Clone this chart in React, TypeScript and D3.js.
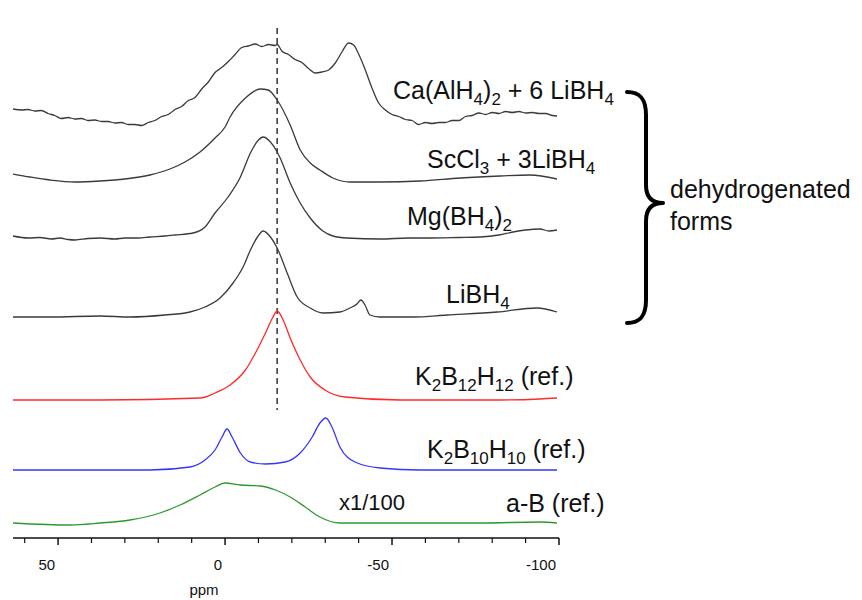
import React from 'react';
import * as d3 from 'd3';

// ---------- data (ppm, intensity above trace baseline, arbitrary units) ----------
const caAlH4LiBH4: [number, number][] = [
  [63.5, 11], [61, 10], [59, 10.5], [57, 9], [55, 9.5], [53, 6.5], [51, 4.5], [49, 1.5], [47, 2.5], [45, 1],
  [43, 1.5], [41, -0.5], [39, 0], [37, -1.5], [35, -1.5], [33, -3], [31, -2.5], [29, -4.5], [27, -4.5], [25, -5.5],
  [23, -2.5], [21, -0.5], [19, 3.5], [17, 5.5], [15, 10.5], [13, 13.5], [11, 19.5], [9, 22.5], [7, 31], [5, 38],
  [3, 47.5], [1, 52.5], [-1, 58.5], [-3, 65.5], [-5, 72.5], [-7, 74], [-9, 76], [-11, 73.5], [-13, 75.5], [-15, 74.5],
  [-15.6, 75.5], [-17, 69], [-19, 65.5], [-21, 60.5], [-23, 57.5], [-25, 51.5], [-27, 47], [-29, 48], [-31, 50], [-33, 57],
  [-35, 68], [-37, 77], [-38.5, 75], [-40, 66], [-42, 50], [-44, 32], [-46, 17], [-48, 10], [-50, 5.5], [-52, 3.5],
  [-54, 0.5], [-56, -0.5], [-58, -4.5], [-60, -2.5], [-62, -3.5], [-64, -2.5], [-66, -2.5], [-68, -0.5], [-70, -0.5], [-72, 3.5],
  [-74, 4.5], [-76, 7], [-78, 5.5], [-80, 7.5], [-82, 6.5], [-84, 8.5], [-86, 7.5], [-88, 8.5], [-90, 7], [-92, 7.5],
  [-94, 6.5], [-96, 6.5], [-98, 4.5], [-99.4, 4],
];
const scCl3LiBH4: [number, number][] = [
  [63.5, 6], [58.4, 3], [52.4, 0], [44.9, -2], [37.4, -1], [30, 1], [22.5, 5], [16.5, 11], [12, 18], [7.5, 28],
  [3, 42], [0, 53], [-1.5, 63], [-6.1, 82], [-10.6, 91], [-12.9, 90], [-15.6, 80], [-19.5, 55], [-22.5, 30],
  [-25.5, 17], [-28.4, 10], [-32.3, 2], [-37.4, -2], [-46.4, -2], [-58.4, -1], [-70.4, 2], [-82.4, 4],
  [-91.3, 5], [-99.4, 1],
];
const mgBH4: [number, number][] = [
  [63.5, 2], [59, 0], [55.4, 0.5], [52, -1], [49.4, 0], [47, -1.5], [44.9, -2], [41, -0.5], [37.4, 0], [33, -1],
  [30, 0], [26, 0], [22.5, 1], [18, 2], [15, 3], [9.6, 5], [6, 11], [3, 25], [-0.9, 41], [-4.6, 61],
  [-7.6, 85], [-10, 98], [-11.4, 101], [-13.6, 96], [-15.6, 86], [-16.5, 80], [-19.5, 55], [-22.5, 35],
  [-25.5, 20], [-29.3, 7], [-32.3, 2], [-36.5, 0], [-46.4, -1], [-55, 0], [-61.4, 0], [-70, 0.5], [-76.4, 1],
  [-82, 3], [-86.2, 6], [-90, 8], [-94.3, 9], [-97, 7], [-99.4, 8],
];
const liBH4: [number, number][] = [
  [63.5, -1], [52.4, -1], [37.4, 0], [28.5, -1], [18, 1], [10.5, 4], [6, 9], [1.5, 18], [-2.4, 33], [-5.4, 49],
  [-7.6, 66], [-9.7, 79], [-11.4, 85], [-13.6, 79], [-15.6, 68], [-18.6, 43], [-21.6, 19], [-25.5, 8],
  [-29.3, 3], [-34.4, 4], [-37.4, 8], [-39.5, 12], [-40.7, 16], [-41.9, 11], [-43.4, 1], [-46.4, -1],
  [-56.3, -1], [-66.5, 1], [-81.5, 4], [-93.4, 8], [-99.4, 4],
];
const k2B12H12: [number, number][] = [
  [63.5, 0], [37.4, 0], [7.5, 2], [3, 7], [-1.5, 15], [-6.1, 30], [-9.1, 47], [-12.1, 67], [-14.2, 82],
  [-15.6, 89], [-17.4, 80], [-19.5, 62], [-22.5, 40], [-25.5, 23], [-29.9, 10], [-35.9, 3], [-52.4, 0],
  [-82.4, 0], [-94.3, 1], [-99.4, 2],
];
const k2B10H10: [number, number][] = [
  [63.5, 0], [22.5, 0], [10.5, 3], [6, 10], [3, 20], [0.9, 33], [-0.6, 41], [-2.1, 33], [-4.6, 17], [-7.6, 8],
  [-12.1, 6], [-18, 8], [-22.5, 17], [-26.1, 33], [-28.4, 47], [-30.2, 52], [-32, 43], [-34.4, 23],
  [-38.9, 8], [-46.4, 2], [-58.4, 0], [-99.4, 0],
];
const amorphousB: [number, number][] = [
  [63.5, 0], [46.4, -2], [37.4, 0], [28.5, 3], [19.5, 10], [13.5, 18], [7.5, 28], [3, 36], [0, 40],
  [-4.6, 38], [-10.6, 37], [-15.1, 33], [-19.5, 26], [-24, 16], [-28.4, 6], [-34.4, 0], [-52.4, 0],
  [-76.4, 0], [-94.3, 1], [-99.4, 0],
];

const seriesData = [caAlH4LiBH4, scCl3LiBH4, mgBH4, liBH4, k2B12H12, k2B10H10, amorphousB];
const seriesOffsets = [417, 357, 299, 221, 137, 67, 14];
const seriesColors = ['#3a3a3a', '#3a3a3a', '#3a3a3a', '#3a3a3a', '#ff2a2a', '#3535ff', '#2e9a2e'];

type Part = [string, boolean];
const seriesLabels: Part[][] = [
  [['Ca(AlH', false], ['4', true], [')', false], ['2', true], [' + 6 LiBH', false], ['4', true]],
  [['ScCl', false], ['3', true], [' + 3LiBH', false], ['4', true]],
  [['Mg(BH', false], ['4', true], [')', false], ['2', true]],
  [['LiBH', false], ['4', true]],
  [['K', false], ['2', true], ['B', false], ['12', true], ['H', false], ['12', true], [' (ref.)', false]],
  [['K', false], ['2', true], ['B', false], ['10', true], ['H', false], ['10', true], [' (ref.)', false]],
  [['a-B (ref.)', false]],
];
const labelX = [393, 427, 407, 446, 415, 427, 506];
const labelY = [99, 168, 225, 303, 385, 458, 512];

const X_DOMAIN: [number, number] = [63.5, -100];
const MAJOR_TICKS = [50, 0, -50, -100];
const MAJOR_TICK_LABELS = ['50', '0', '-50', '-100'];
const MINOR_TICKS = [60, 40, 30, 20, 10, -10, -20, -30, -40, -60, -70, -80, -90];
const REF_PPM = -15.6;

const FONT = "'Liberation Sans', Arial, Helvetica, sans-serif";

function Label({ parts, x, y, size = 25, subSize = 17 }: { parts: Part[]; x: number; y: number; size?: number; subSize?: number }) {
  let prevSub = false;
  return (
    <text x={x} y={y} fontFamily={FONT} fontSize={size} fill="#111" style={{ whiteSpace: 'pre' }}>
      {parts.map(([t, sub], i) => {
        let dy = 0;
        if (sub && !prevSub) dy = 6;
        if (!sub && prevSub) dy = -6;
        prevSub = sub;
        return (
          <tspan key={i} dy={dy} fontSize={sub ? subSize : size}>
            {t}
          </tspan>
        );
      })}
    </text>
  );
}

export default function App() {
  const W = 862;
  const H = 600;
  const x = d3.scaleLinear().domain(X_DOMAIN).range([13, 559]);
  const y = d3.scaleLinear().domain([0, 500]).range([537, 37]);
  const axisY = 538;

  const makeLine = (offset: number) =>
    d3
      .line<[number, number]>()
      .x((d) => x(d[0]))
      .y((d) => y(offset + d[1]))
      .curve(d3.curveMonotoneX);

  const bracePath =
    'M 627 92 C 641 92, 646 100, 646 115 L 646 185 C 646 197, 652 203, 663 203 C 652 203, 646 209, 646 221 L 646 300 C 646 315, 641 323, 627 323';

  return (
    <div style={{ position: 'absolute', left: 0, top: 0 }}>
      <svg width={W} height={H} style={{ display: 'block', background: '#fff' }}>
        <rect x={0} y={0} width={W} height={H} fill="#fff" />
        {/* reference dashed line */}
        <line x1={x(REF_PPM)} x2={x(REF_PPM)} y1={28} y2={410} stroke="#333" strokeWidth={1.5} strokeDasharray="6,4" />
        {/* traces */}
        {seriesData.map((d, i) => (
          <path key={i} d={makeLine(seriesOffsets[i])(d) || ''} fill="none" stroke={seriesColors[i]} strokeWidth={1.3} strokeLinejoin="round" />
        ))}
        {/* labels */}
        {seriesLabels.map((p, i) => (
          <Label key={i} parts={p} x={labelX[i]} y={labelY[i]} />
        ))}
        <text x={339} y={510} fontFamily={FONT} fontSize={22} fill="#111">x1/100</text>
        {/* brace */}
        <path d={bracePath} fill="none" stroke="#000" strokeWidth={4} strokeLinecap="round" strokeLinejoin="round" />
        <text x={670} y={198} fontFamily={FONT} fontSize={25} fill="#111">dehydrogenated</text>
        <text x={670} y={230} fontFamily={FONT} fontSize={25} fill="#111">forms</text>
        {/* axis */}
        <line x1={x(X_DOMAIN[0])} x2={x(-100)} y1={axisY} y2={axisY} stroke="#111" strokeWidth={1.5} />
        {MINOR_TICKS.map((t) => (
          <line key={'mi' + t} x1={x(t)} x2={x(t)} y1={axisY} y2={axisY + 5} stroke="#111" strokeWidth={1.2} />
        ))}
        {MAJOR_TICKS.map((t, i) => (
          <g key={'ma' + t}>
            <line x1={x(t)} x2={x(t)} y1={axisY} y2={axisY + 7} stroke="#111" strokeWidth={1.5} />
            <text x={x(t) - 3} y={570} textAnchor="end" fontFamily={FONT} fontSize={15} fill="#111">
              {MAJOR_TICK_LABELS[i]}
            </text>
          </g>
        ))}
        <text x={204} y={595} textAnchor="middle" fontFamily={FONT} fontSize={15} fill="#111">ppm</text>
      </svg>
    </div>
  );
}
